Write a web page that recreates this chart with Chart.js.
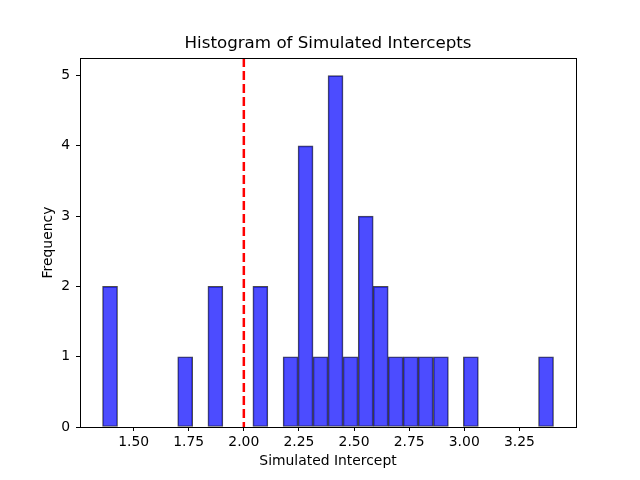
<!DOCTYPE html>
<html>
<head>
<meta charset="utf-8">
<script src="https://cdn.jsdelivr.net/npm/chart.js@4/dist/chart.umd.min.js"></script>
<style>
html,body{margin:0;padding:0;background:#fff;}
#wrap{width:640px;height:480px;position:relative;}
</style>
</head>
<body>
<div id="wrap"><canvas id="c" width="640" height="480"></canvas></div>
<script>
// Histogram bin centers (30 bins) and counts
const binCenters = [1.393,1.461,1.530,1.598,1.666,1.734,1.802,1.871,1.939,2.007,
                    2.075,2.143,2.212,2.280,2.348,2.416,2.484,2.553,2.621,2.689,
                    2.757,2.825,2.894,2.962,3.030,3.098,3.166,3.235,3.303,3.371];
const counts =     [2,0,0,0,0,1,0,2,0,0,
                    2,0,1,4,1,5,1,3,2,1,
                    1,1,1,0,1,0,0,0,0,1];
const xTicks = [1.50,1.75,2.00,2.25,2.50,2.75,3.00,3.25];
const yTicks = [0,1,2,3,4,5];
const xRange = [1.2567, 3.507];
const yRange = [0, 5.25];
const refLine = 2.0;

const FONT = "'DejaVu Sans', sans-serif";

const framePlugin = {
  id: 'frame',
  afterDatasetsDraw(chart) {
    const {ctx, chartArea: a, scales} = chart;
    const x = scales.x.getPixelForValue(refLine);
    ctx.save();
    ctx.strokeStyle = 'red';
    ctx.lineWidth = 2.5;
    ctx.setLineDash([9, 4]);
    ctx.beginPath();
    ctx.moveTo(x, a.top);
    ctx.lineTo(x, a.bottom);
    ctx.stroke();
    ctx.restore();
    ctx.save();
    ctx.strokeStyle = '#000';
    ctx.lineWidth = 1;
    ctx.strokeRect(Math.round(a.left) + 0.5, Math.round(a.top) + 0.5,
                   Math.round(a.right - a.left), Math.round(a.bottom - a.top));
    ctx.restore();
  }
};

new Chart(document.getElementById('c'), {
  type: 'bar',
  data: {
    datasets: [{
      label: 'Simulated Intercepts',
      data: binCenters.map((c, i) => ({x: c, y: counts[i] > 0 ? counts[i] : null})),
      backgroundColor: 'rgba(0,0,255,0.7)',
      borderColor: 'rgba(0,0,0,0.7)',
      borderWidth: 1,
      barPercentage: 1.0,
      categoryPercentage: 1.0,
      borderSkipped: false
    }]
  },
  options: {
    responsive: false,
    animation: false,
    devicePixelRatio: 1,
    layout: {padding: {left: 0, right: 64, top: 0, bottom: 0}},
    plugins: {
      legend: {display: false},
      tooltip: {enabled: false},
      title: {
        display: true,
        fullSize: false,
        text: 'Histogram of Simulated Intercepts',
        color: '#000',
        font: {family: FONT, size: 16.7, weight: 'normal'},
        padding: {top: 34, bottom: 4}
      }
    },
    scales: {
      x: {
        type: 'linear',
        offset: false,
        min: xRange[0], max: xRange[1],
        afterBuildTicks: s => { s.ticks = xTicks.map(v => ({value: v})); },
        afterFit: s => { s.height = 53; },
        ticks: {
          color: '#000',
          font: {family: FONT, size: 13.9},
          padding: 3,
          maxRotation: 0,
          autoSkip: false,
          callback: v => Number(v).toFixed(2)
        },
        grid: {display: true, offset: false, drawOnChartArea: false, drawTicks: true, tickLength: 4, color: '#000'},
        border: {display: true, color: '#000'},
        title: {
          display: true, text: 'Simulated Intercept', color: '#000',
          font: {family: FONT, size: 13.9}, padding: {top: 0, bottom: 10}
        }
      },
      y: {
        type: 'linear',
        min: yRange[0], max: yRange[1],
        afterBuildTicks: s => { s.ticks = yTicks.map(v => ({value: v})); },
        afterFit: s => { s.width = 80; },
        ticks: {
          color: '#000',
          font: {family: FONT, size: 13.9},
          padding: 6,
          callback: v => String(v)
        },
        grid: {display: true, drawOnChartArea: false, drawTicks: true, tickLength: 4, color: '#000'},
        border: {display: true, color: '#000'},
        title: {
          display: true, text: 'Frequency', color: '#000',
          font: {family: FONT, size: 13.9}, padding: {top: 40, bottom: 0}
        }
      }
    }
  },
  plugins: [framePlugin]
});
</script>
</body>
</html>
